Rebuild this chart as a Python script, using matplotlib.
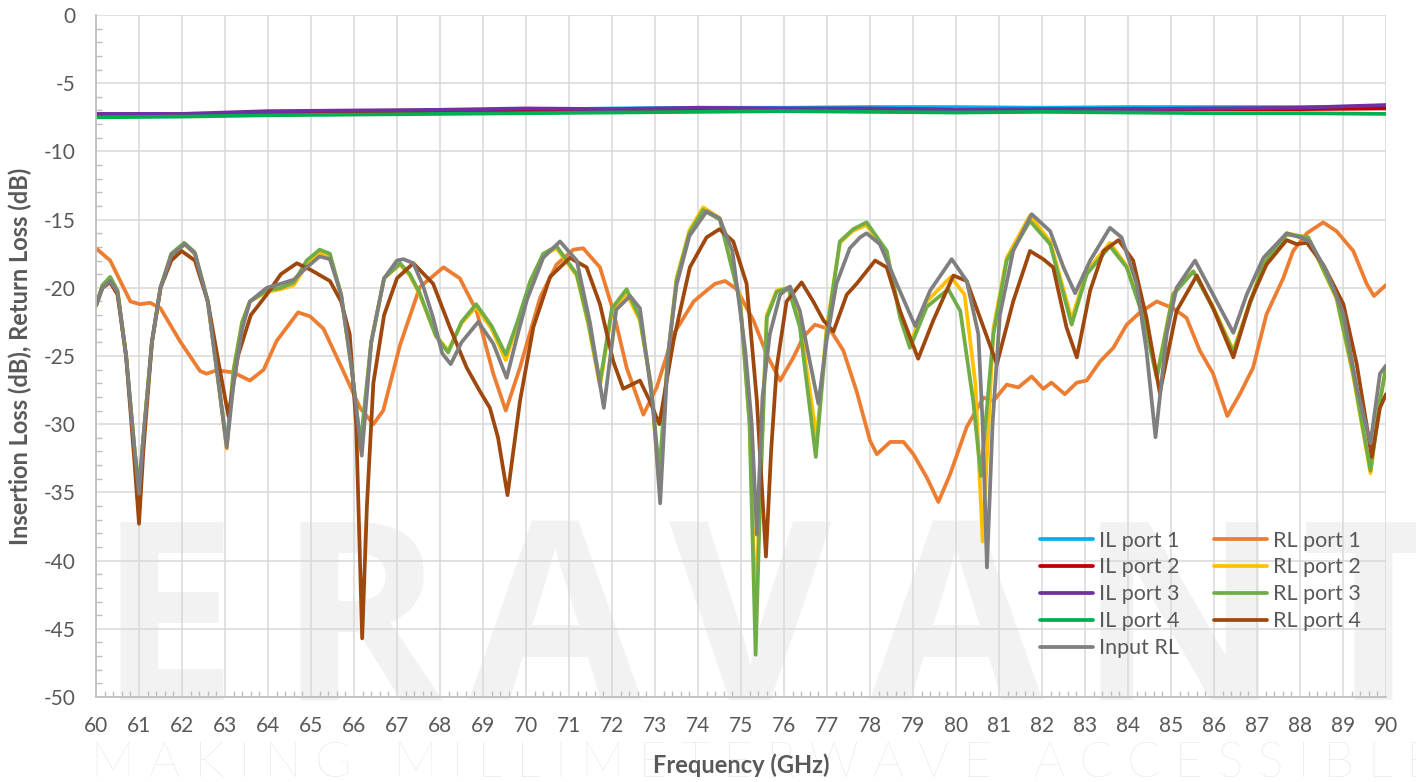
import matplotlib.pyplot as plt
from matplotlib.ticker import MultipleLocator

plt.rcParams['axes.unicode_minus'] = False

# ---- data ----
il_freq = [60, 62, 64, 66, 68, 70, 72, 74, 76, 78, 80, 82, 84, 86, 88, 90]
il_port1 = [-7.35, -7.3, -7.15, -7.1, -7.0, -6.95, -6.85, -6.8, -6.8, -6.75, -6.75, -6.8, -6.75, -6.75, -6.75, -6.7]
il_port2 = [-7.3, -7.3, -7.2, -7.1, -7.05, -7.0, -6.95, -6.9, -6.9, -6.9, -6.95, -6.95, -6.9, -6.9, -6.9, -6.85]
il_port3 = [-7.25, -7.25, -7.05, -7.0, -6.95, -6.85, -6.9, -6.8, -6.85, -6.85, -6.95, -6.9, -6.9, -6.85, -6.8, -6.6]
il_port4 = [-7.5, -7.45, -7.35, -7.3, -7.25, -7.2, -7.15, -7.1, -7.05, -7.1, -7.15, -7.1, -7.15, -7.2, -7.2, -7.25]

rl1_freq = [60.0, 60.33, 60.8, 61.02, 61.26, 61.5, 61.95, 62.42, 62.57, 62.8, 63.19, 63.58, 63.9, 64.2,
            64.7, 64.98, 65.29, 65.75, 66.14, 66.45, 66.68, 67.07, 67.53, 68.08, 68.46, 68.85, 69.24,
            69.53, 69.86, 70.33, 70.71, 71.1, 71.33, 71.72, 72.03, 72.34, 72.73, 73.04, 73.43, 73.9,
            74.2, 74.4, 74.63, 74.9, 75.29, 75.6, 75.91, 76.22, 76.45, 76.72, 77.07, 77.38, 77.69,
            78.0, 78.16, 78.47, 78.78, 79.01, 79.32, 79.59, 79.86, 80.25, 80.64, 80.87, 81.18, 81.45,
            81.76, 82.03, 82.22, 82.53, 82.81, 83.04, 83.35, 83.66, 83.97, 84.28, 84.67, 85.05, 85.36,
            85.67, 85.98, 86.31, 86.6, 86.91, 87.22, 87.61, 87.84, 88.16, 88.54, 88.85, 89.24, 89.55,
            89.72, 90.0]
rl_port1 = [-17.1, -18.0, -21.0, -21.2, -21.1, -21.5, -23.9, -26.1, -26.3, -26.05, -26.2, -26.8, -26.0, -23.9,
            -21.8, -22.1, -23.0, -26.1, -28.8, -30.0, -29.0, -24.2, -19.95, -18.5, -19.3, -21.7, -26.3,
            -29.0, -25.85, -20.7, -18.3, -17.2, -17.1, -18.5, -21.7, -25.85, -29.3, -27.3, -23.4, -21.0,
            -20.2, -19.7, -19.5, -20.1, -22.4, -24.9, -26.8, -25.1, -23.6, -22.7, -23.05, -24.6, -27.6,
            -31.2, -32.2, -31.3, -31.3, -32.2, -33.9, -35.7, -33.7, -30.2, -28.05, -28.3, -27.1, -27.3,
            -26.5, -27.4, -26.95, -27.8, -26.95, -26.8, -25.4, -24.4, -22.7, -21.8, -21.0, -21.5, -22.2,
            -24.6, -26.3, -29.4, -27.8, -25.85, -21.95, -19.3, -17.3, -16.0, -15.2, -15.85, -17.3, -19.7,
            -20.6, -19.8]

rl3_freq = [60.0, 60.15, 60.33, 60.5, 60.7, 60.9, 61.0, 61.1, 61.3, 61.5, 61.75, 62.05, 62.3, 62.6, 62.85,
            63.04, 63.2, 63.4, 63.58, 63.97, 64.3, 64.6, 64.9, 65.2, 65.44, 65.7, 65.95, 66.15, 66.4,
            66.7, 67.07, 67.3, 67.53, 67.9, 68.19, 68.5, 68.84, 69.2, 69.53, 69.8, 70.1, 70.4, 70.71,
            71.18, 71.45, 71.72, 72.0, 72.34, 72.65, 72.9, 73.1, 73.3, 73.5, 73.8, 74.12, 74.51, 74.98,
            75.2, 75.34, 75.45, 75.6, 75.83, 76.1, 76.37, 76.74, 76.99, 77.3, 77.61, 77.92, 78.39, 78.7,
            78.93, 79.32, 79.82, 80.1, 80.4, 80.58, 80.87, 81.18, 81.72, 82.19, 82.69, 83.04, 83.58,
            83.97, 84.36, 84.67, 85.05, 85.52, 85.98, 86.45, 87.15, 87.69, 88.19, 88.85, 89.24, 89.64,
            89.86, 90.0]
rl_port3 = [-21.3, -19.8, -19.2, -20.2, -25.0, -32.0, -34.5, -31.0, -24.0, -20.0, -17.5, -16.7, -17.4, -21.0, -27.0,
            -31.5, -26.0, -22.5, -21.0, -20.2, -20.0, -19.6, -18.0, -17.2, -17.5, -20.5, -26.0, -31.5, -24.0,
            -19.3, -18.2, -19.0, -20.4, -23.5, -24.75, -22.5, -21.2, -22.8, -24.9, -22.5, -19.5, -17.5, -16.95,
            -19.0, -22.5, -26.95, -21.5, -20.1, -22.2, -27.0, -33.5, -25.0, -19.5, -16.0, -14.3, -15.0, -21.0,
            -30.0, -46.9, -35.0, -22.2, -20.3, -20.0, -22.9, -32.4, -23.4, -16.6, -15.7, -15.2, -17.3, -22.2,
            -24.4, -21.4, -20.1, -21.7, -28.3, -33.8, -23.4, -18.0, -15.1, -16.8, -22.7, -19.0, -16.95,
            -18.5, -22.2, -26.6, -20.5, -18.8, -21.5, -24.75, -18.3, -16.1, -16.3, -20.7, -26.3, -33.4,
            -28.3, -25.85]

rl2_freq = [60.0, 60.15, 60.33, 60.5, 60.7, 60.9, 61.0, 61.1, 61.3, 61.5, 61.75, 62.05, 62.3, 62.6, 62.85,
            63.04, 63.2, 63.4, 63.58, 63.97, 64.3, 64.6, 64.9, 65.2, 65.44, 65.7, 65.95, 66.15, 66.4,
            66.7, 67.07, 67.3, 67.53, 67.9, 68.19, 68.5, 68.84, 69.2, 69.53, 69.8, 70.1, 70.4, 70.71,
            71.18, 71.45, 71.72, 72.0, 72.34, 72.65, 72.9, 73.1, 73.3, 73.5, 73.8, 74.12, 74.51, 74.98,
            75.2, 75.34, 75.45, 75.6, 75.83, 76.1, 76.37, 76.76, 76.99, 77.3, 77.61, 77.92, 78.39, 78.7,
            78.95, 79.32, 79.88, 80.2, 80.45, 80.62, 80.87, 81.18, 81.72, 82.19, 82.69, 83.04, 83.58,
            83.97, 84.36, 84.67, 85.05, 85.52, 85.98, 86.45, 87.15, 87.69, 88.19, 88.85, 89.24, 89.64,
            89.86, 90.0]
rl_port2 = [-21.3, -19.9, -19.3, -20.2, -25.0, -32.0, -35.0, -31.0, -24.0, -20.0, -17.6, -16.8, -17.5, -21.0, -27.0,
            -31.8, -26.0, -22.5, -21.0, -20.3, -20.1, -19.8, -18.3, -17.4, -17.7, -20.5, -26.0, -31.8, -24.0,
            -19.3, -18.3, -19.1, -20.5, -23.5, -24.6, -22.6, -21.4, -23.0, -25.3, -22.7, -19.6, -17.6, -17.1,
            -19.1, -22.7, -27.2, -21.7, -20.4, -22.4, -27.0, -34.5, -25.0, -19.3, -15.8, -14.1, -14.9, -20.8,
            -30.0, -44.0, -34.0, -22.0, -20.2, -20.0, -22.6, -31.0, -23.0, -16.7, -15.8, -15.4, -17.5, -22.0,
            -24.0, -21.0, -19.2, -20.5, -27.0, -38.6, -23.0, -17.8, -14.7, -16.6, -22.3, -18.8, -16.7,
            -18.4, -22.1, -26.5, -20.4, -18.8, -21.4, -24.6, -18.2, -16.0, -16.3, -20.8, -26.5, -33.6,
            -28.3, -25.85]

rl4_freq = [60.0, 60.15, 60.33, 60.5, 60.7, 60.9, 61.0, 61.1, 61.3, 61.5, 61.75, 61.99, 62.3, 62.6, 62.85,
            63.08, 63.3, 63.6, 63.97, 64.3, 64.67, 65.0, 65.44, 65.7, 65.9, 66.05, 66.19, 66.3, 66.45,
            66.7, 67.0, 67.38, 67.84, 68.23, 68.62, 68.93, 69.16, 69.35, 69.57, 69.86, 70.17, 70.56,
            71.02, 71.41, 71.72, 72.03, 72.26, 72.65, 72.88, 73.1, 73.43, 73.81, 74.2, 74.5, 74.82,
            75.13, 75.37, 75.58, 75.7, 75.83, 76.06, 76.41, 76.68, 76.92, 77.15, 77.46, 77.69, 78.12,
            78.39, 78.7, 79.12, 79.47, 79.94, 80.25, 80.64, 80.95, 81.33, 81.72, 82.03, 82.26, 82.57,
            82.81, 83.12, 83.43, 83.78, 84.12, 84.43, 84.74, 85.13, 85.6, 85.98, 86.45, 86.84, 87.22,
            87.69, 87.92, 88.16, 88.54, 89.01, 89.32, 89.67, 89.86, 90.0]
rl_port4 = [-21.3, -20.0, -19.6, -20.5, -25.0, -33.0, -37.3, -32.0, -24.0, -20.0, -18.0, -17.3, -18.0, -21.0, -25.5,
            -29.4, -25.0, -22.0, -20.5, -19.0, -18.2, -18.7, -19.5, -21.0, -23.4, -30.0, -45.7, -36.0, -27.0,
            -22.0, -19.3, -18.2, -19.7, -22.9, -25.85, -27.6, -28.8, -31.0, -35.2, -28.3, -22.9, -19.2,
            -17.8, -18.5, -21.2, -25.4, -27.4, -26.8, -28.3, -30.0, -23.9, -18.5, -16.3, -15.7, -16.6,
            -19.7, -28.3, -39.7, -32.0, -25.85, -21.0, -19.6, -21.0, -22.4, -23.2, -20.5, -19.7, -18.0,
            -18.5, -21.7, -25.2, -22.4, -19.1, -19.5, -22.9, -25.6, -21.0, -17.3, -17.9, -18.5, -22.9,
            -25.1, -20.2, -17.3, -16.5, -18.0, -22.2, -27.7, -21.7, -19.1, -21.5, -25.1, -21.0, -18.3,
            -16.5, -16.8, -16.7, -18.3, -21.2, -25.6, -32.4, -28.8, -27.8]

input_freq = [60.0, 60.15, 60.33, 60.5, 60.7, 60.9, 61.0, 61.1, 61.3, 61.5, 61.75, 62.07, 62.3, 62.6, 62.85,
              63.04, 63.2, 63.4, 63.58, 63.97, 64.3, 64.6, 64.9, 65.2, 65.44, 65.7, 65.95, 66.18, 66.4,
              66.7, 67.0, 67.15, 67.38, 67.6, 67.84, 68.05, 68.25, 68.5, 68.89, 69.24, 69.55, 69.8, 70.02,
              70.4, 70.79, 71.18, 71.49, 71.81, 72.1, 72.42, 72.65, 72.96, 73.12, 73.3, 73.5, 73.8, 74.2,
              74.5, 74.8, 75.1, 75.25, 75.37, 75.5, 75.67, 75.91, 76.14, 76.37, 76.6, 76.8, 76.99, 77.22,
              77.53, 77.77, 77.92, 78.23, 78.62, 79.05, 79.4, 79.9, 80.25, 80.52, 80.62, 80.72, 80.85,
              81.02, 81.33, 81.76, 82.19, 82.5, 82.77, 83.12, 83.58, 83.85, 84.2, 84.43, 84.64, 84.9,
              85.13, 85.56, 85.98, 86.45, 86.76, 87.15, 87.69, 88.0, 88.23, 88.62, 89.01, 89.32, 89.64,
              89.86, 90.0]
input_rl = [-21.3, -20.0, -19.5, -20.3, -25.0, -32.0, -35.1, -31.0, -24.0, -20.0, -17.6, -16.8, -17.5, -21.0, -27.0,
            -31.7, -27.0, -23.0, -21.0, -20.0, -19.7, -19.4, -18.5, -17.7, -17.9, -20.5, -26.0, -32.3, -24.0,
            -19.3, -18.0, -17.9, -18.2, -19.8, -22.2, -24.8, -25.6, -24.0, -22.5, -24.1, -26.6, -23.5, -20.9,
            -17.8, -16.6, -18.0, -22.6, -28.8, -21.6, -20.6, -21.5, -28.8, -35.8, -25.0, -19.8, -16.2, -14.4,
            -14.9, -17.3, -24.6, -30.0, -38.1, -28.0, -23.4, -20.5, -19.9, -21.7, -25.4, -28.5, -23.9, -19.7,
            -17.1, -16.3, -16.0, -16.8, -19.7, -22.8, -20.2, -17.9, -19.5, -23.4, -30.0, -40.5, -30.0,
            -22.0, -17.3, -14.6, -15.85, -18.5, -20.4, -18.0, -15.6, -16.3, -19.7, -24.6, -30.95, -23.4,
            -20.0, -18.0, -20.5, -23.3, -20.5, -17.8, -16.0, -16.3, -16.6, -18.8, -21.9, -27.3, -31.4,
            -26.3, -25.7]

font = ["Lato", "DejaVu Sans"]
text_col = "#595959"

fig = plt.figure(figsize=(14.16, 7.82), dpi=100)
ax = fig.add_axes([0.0678, 0.1087, 0.911, 0.8721])
ax.set_facecolor("none")

# watermark behind the plot
for letter, xpos in zip("ERAVANT", [0.118, 0.254, 0.392, 0.530, 0.675, 0.833, 0.970]):
    fig.text(xpos, 0.105, letter, fontsize=180, color="#f2f2f2", ha="center", va="baseline",
             family=["Open Sans", "DejaVu Sans"], fontweight="bold", zorder=-5)
fig.text(0.064, 0.006, "M A K I N G   M I L L I M E T E R W A V E   A C C E S S I B L E",
         fontsize=35.5, color="#e3e3e3", ha="left", va="baseline", family=font,
         fontweight="light", zorder=-5)

lw = 2.7
h_il1, = ax.plot(il_freq, il_port1, color="#00B0F0", lw=lw, label="IL port 1")
h_il2, = ax.plot(il_freq, il_port2, color="#C00000", lw=lw, label="IL port 2")
h_il3, = ax.plot(il_freq, il_port3, color="#7030A0", lw=lw, label="IL port 3")
h_il4, = ax.plot(il_freq, il_port4, color="#00B050", lw=lw, label="IL port 4")
h_rl1, = ax.plot(rl1_freq, rl_port1, color="#ED7D31", lw=lw, label="RL port 1")
h_rl2, = ax.plot(rl2_freq, rl_port2, color="#FFC000", lw=lw, label="RL port 2")
h_rl3, = ax.plot(rl3_freq, rl_port3, color="#70AD47", lw=lw, label="RL port 3")
h_rl4, = ax.plot(rl4_freq, rl_port4, color="#9E480E", lw=lw, label="RL port 4")
h_in, = ax.plot(input_freq, input_rl, color="#7F7F7F", lw=lw, label="Input RL")
for ln in ax.get_lines():
    ln.set_solid_joinstyle("round")
    ln.set_solid_capstyle("round")

ax.set_xlim(60, 90)
ax.set_ylim(-50, 0)
ax.xaxis.set_major_locator(MultipleLocator(1))
ax.xaxis.set_minor_locator(MultipleLocator(0.2))
ax.yaxis.set_major_locator(MultipleLocator(5))
ax.yaxis.set_minor_locator(MultipleLocator(1))
ax.grid(True, which="major", color="#d9d9d9", lw=1.1)
ax.set_axisbelow(True)

for side in ["top", "right"]:
    ax.spines[side].set_visible(False)
for side in ["left", "bottom"]:
    ax.spines[side].set_color("#bfbfbf")
    ax.spines[side].set_linewidth(1.3)

ax.tick_params(which="major", length=0, labelsize=15, labelcolor=text_col)
ax.tick_params(axis="y", which="major", pad=15)
ax.tick_params(axis="x", which="major", pad=14)
ax.tick_params(which="minor", direction="in", length=4, color="#bfbfbf", width=1)
for lab in ax.get_xticklabels() + ax.get_yticklabels():
    lab.set_family(font)

ax.set_xlabel("Frequency (GHz)", fontsize=17, fontweight="bold", color=text_col, family=font, labelpad=12)
ax.set_ylabel("Insertion Loss (dB), Return Loss (dB)", fontsize=17, fontweight="bold",
              color=text_col, family=font, labelpad=8)

handles = [h_il1, h_il2, h_il3, h_il4, h_in, h_rl1, h_rl2, h_rl3, h_rl4]
leg = ax.legend(handles=handles, labels=[h.get_label() for h in handles], ncol=2, loc="upper left",
                bbox_to_anchor=(0.7318, 0.244), frameon=False,
                prop={"family": font, "size": 15.5}, handlelength=2.45, handletextpad=0.3,
                columnspacing=1.6, labelspacing=0.32, borderaxespad=0, borderpad=0)
for t in leg.get_texts():
    t.set_color(text_col)

plt.savefig("out.png", dpi=100)
plt.close()
